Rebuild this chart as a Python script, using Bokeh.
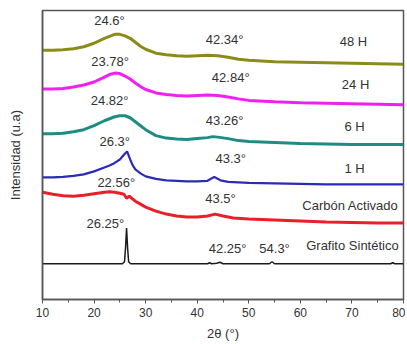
from bokeh.plotting import figure
from bokeh.models import Range1d, SingleIntervalTicker, FixedTicker
from bokeh.embed import file_html
from bokeh.resources import INLINE
from bokeh.core.properties import value

# --- data (offset intensity, a.u.) ---
x_a = [10, 12, 14, 16, 18, 20, 22, 23, 24, 25, 26, 27, 28, 29, 30, 32, 34, 36, 38, 40, 42, 44, 46, 48, 50, 55, 60, 65, 70, 75, 80]
h48 = [251, 251, 251.5, 252.5, 254.5, 258, 263, 265, 267, 267, 265.5, 263, 259, 255, 252, 248, 246.5, 245.5, 245, 245.5, 246, 245.5, 244, 242, 241, 239.5, 239, 238.5, 238, 237.5, 237]
h24 = [212, 212, 212.5, 214, 216, 219, 224, 226.5, 228, 227.5, 225, 222, 218, 214.5, 211.5, 208, 206.5, 205.5, 205, 205.5, 206, 205.5, 204, 202, 200.5, 199, 198, 197.5, 197, 196.5, 196]

x_6 = [10, 12, 14, 16, 18, 20, 22, 23, 24, 25, 26, 27, 28, 29, 30, 32, 34, 36, 38, 40, 42, 43, 44, 46, 48, 50, 55, 60, 65, 70, 75, 80]
h6 = [167, 167, 167.5, 169, 171, 175, 180, 182, 184, 185, 185, 183, 179, 175, 171, 165, 162.5, 161.5, 161, 162, 163, 164, 163.5, 162, 160, 159, 158, 157, 156.5, 156, 156, 156]

x_1 = [10, 12, 14, 16, 18, 20, 22, 23, 24, 25, 26, 26.4, 27, 27.5, 28, 29, 30, 32, 34, 36, 38, 40, 42, 43.3, 44.5, 46, 48, 50, 55, 60, 65, 70, 75, 80]
h1 = [123, 123, 123.5, 124.5, 126, 129, 133, 135, 137.5, 141, 147, 149, 141, 135, 131, 127, 124, 121.5, 120, 119.5, 119, 119, 119.5, 123.5, 120, 118.5, 118, 117.5, 117, 116.5, 116, 116, 116, 116]

x_ca = [10, 12, 14, 16, 18, 20, 22, 23, 24, 25, 25.8, 26.3, 26.8, 28, 29, 30, 32, 34, 36, 38, 40, 42, 43.5, 45, 47, 50, 55, 60, 65, 70, 75, 80]
ca = [108, 106, 104.5, 104, 105, 106.5, 108, 108.5, 108, 107, 106, 102, 104, 99, 96, 93, 89, 86, 84, 83, 83, 84, 86, 84, 82, 81, 80, 79, 78, 77.5, 77, 77]

x_gs = [10, 25.5, 25.9, 26.1, 26.3, 26.5, 26.7, 27.1, 42, 42.4, 42.8, 43.8, 44.4, 45, 54, 54.5, 55, 77.5, 77.9, 78.3, 80]
gs = [36, 36, 38, 52, 72, 52, 38, 36, 36, 37, 36, 36.5, 37.5, 36, 36, 38, 36, 36, 37, 36, 36]

labels = ["24.6°", "42.34°", "48 H", "23.78°", "42.84°", "24 H", "24.82°", "43.26°", "6 H",
          "26.3°", "43.3°", "1 H", "22.56°", "43.5°", "Carbón Activado", "26.25°", "42.25°", "54.3°",
          "Grafito Sintético"]
label_x = [23.0, 45.3, 70.3, 23.1, 46.5, 70.7, 23.0, 45.3, 70.5, 24.0, 46.5, 70.5, 24.3, 44.5, 69.7, 22.2, 45.9, 55.0, 70.1]
label_y = [281, 262, 260, 240, 224, 216, 200, 180, 174, 159, 142, 132, 118, 102, 95, 77, 51, 51, 54]

FONT = "Liberation Sans"
AX = "#555555"

p = figure(width=405, height=343, output_backend="svg", toolbar_location=None,
           x_range=Range1d(10, 80), y_range=Range1d(0, 291),
           min_border_left=42, min_border_right=2, min_border_top=10, min_border_bottom=42)
p.background_fill_color = "white"
p.border_fill_color = "white"
p.outline_line_color = AX
p.outline_line_width = 1.5
p.xgrid.visible = False
p.ygrid.visible = False

p.line(x_a, h48, color="#8b8b1a", line_width=3)
p.line(x_a, h24, color="#f020f0", line_width=3)
p.line(x_6, h6, color="#1f8c84", line_width=3)
p.line(x_1, h1, color="#2b2bb8", line_width=2.2)
p.line(x_ca, ca, color="#e8202a", line_width=3)
p.line(x_gs, gs, color="#1a1a1a", line_width=1.5)

p.text(x=label_x, y=label_y, text=labels, text_font=value(FONT), text_font_size="13px",
       text_color="#333333", text_align="center", text_baseline="middle")

xa = p.xaxis[0]
xa.ticker = SingleIntervalTicker(interval=10, num_minor_ticks=2)
xa.axis_label = "2θ (°)"
xa.axis_label_text_font = FONT
xa.axis_label_text_font_style = "normal"
xa.axis_label_text_font_size = "13px"
xa.axis_label_text_color = "#333333"
xa.axis_label_standoff = 6
xa.major_label_text_font = FONT
xa.major_label_text_font_size = "12px"
xa.major_label_text_color = "#333333"
xa.major_label_standoff = 4
xa.axis_line_color = AX
xa.axis_line_width = 1.5
xa.major_tick_line_color = AX
xa.minor_tick_line_color = AX
xa.major_tick_in = 0
xa.major_tick_out = 4
xa.minor_tick_in = 0
xa.minor_tick_out = 3

ya = p.yaxis[0]
ya.ticker = FixedTicker(ticks=[])
ya.axis_label = "Intensidad (u.a)"
ya.axis_label_text_font = FONT
ya.axis_label_text_font_style = "normal"
ya.axis_label_text_font_size = "13px"
ya.axis_label_text_color = "#333333"
ya.axis_label_standoff = 20
ya.major_label_text_font_size = "0px"
ya.major_tick_line_color = None
ya.minor_tick_line_color = None
ya.axis_line_color = AX
ya.axis_line_width = 1.5

open("out.html", "w").write(file_html(p, INLINE))
